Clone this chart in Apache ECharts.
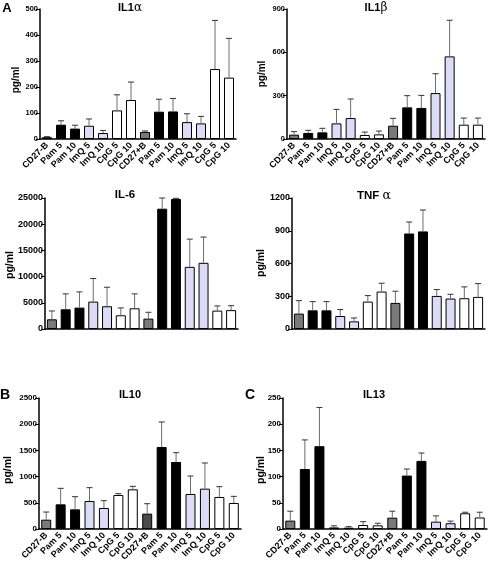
<!DOCTYPE html>
<html><head><meta charset="utf-8">
<script src="https://cdn.jsdelivr.net/npm/echarts@6/dist/echarts.min.js"></script>
<style>html,body{margin:0;padding:0;background:#fff}#c{width:488px;height:566px}</style>
</head><body><div id="c"></div>
<script>
const categories = ['CD27-B','Pam 5','Pam 10','ImQ 5','ImQ 10','CpG 5','CpG 10','CD27+B','Pam 5','Pam 10','ImQ 5','ImQ 10','CpG 5','CpG 10'];

const il1aMean = [7, 55, 40, 51, 23, 110, 150, 27, 105, 106, 65, 60, 269, 236];
const il1aUpper = [9, 70, 53, 77, 33, 170, 219, 31, 153, 156, 97, 87, 456, 387];

const il1bMean = [30, 42, 46, 108, 145, 28, 32, 92, 219, 215, 318, 572, 99, 99];
const il1bUpper = [51, 60, 74, 205, 277, 48, 55, 143, 300, 302, 452, 822, 145, 145];

const il6Mean = [1850, 3760, 4080, 5230, 4340, 2620, 3950, 1980, 22960, 24810, 11860, 12630, 3510, 3600];
const il6Upper = [3440, 6700, 7080, 9630, 7970, 4020, 6700, 3190, 25000, 24940, 17150, 17540, 4400, 4450];

const tnfMean = [141, 171, 171, 119, 70, 251, 343, 239, 875, 894, 303, 279, 282, 294];
const tnfUpper = [260, 251, 251, 178, 101, 306, 419, 346, 980, 1090, 361, 318, 386, 416];

const il10Mean = [178, 471, 375, 534, 401, 649, 757, 293, 1565, 1279, 668, 770, 611, 496];
const il10Upper = [324, 776, 617, 789, 541, 674, 814, 483, 2042, 1457, 1011, 1260, 808, 623];

const il13Mean = [16, 114.5, 158, 3, 2.5, 7.6, 7, 21.6, 102, 130, 14, 11, 30, 22];
const il13Upper = [34, 170, 232, 6, 4.5, 14, 11, 34, 114.5, 145, 25, 15, 32, 32];

const panelTitles = ['IL1α', 'IL1β', 'IL-6', 'TNF α', 'IL10', 'IL13'];
const yMax = [500, 900, 25000, 1200, 2500, 250];
const yInterval = [100, 300, 5000, 300, 500, 50];
const panelLetters = ['A', 'B', 'C'];
const yName = 'pg/ml';

// styling / layout
const GRAY = '#7a7a7a', BLACK = '#000', LAV = '#dcdcf7', WHITE = '#fff', DARKGRAY = '#4a4a4a';
const baseColors = [GRAY, BLACK, BLACK, LAV, LAV, WHITE, WHITE, GRAY, BLACK, BLACK, LAV, LAV, WHITE, WHITE];
const FONT = 'Liberation Sans, Arial, sans-serif';

const panels = [
  {mean: il1aMean, upper: il1aUpper, grid: {left: 40, top: 9, width: 196, height: 130}, tickFont: 7.5, showLabels: true, colors: baseColors},
  {mean: il1bMean, upper: il1bUpper, grid: {left: 287, top: 9, width: 198, height: 130}, tickFont: 7.5, showLabels: true, colors: baseColors},
  {mean: il6Mean, upper: il6Upper, grid: {left: 45, top: 198, width: 193, height: 131}, tickFont: 9, showLabels: false, colors: baseColors},
  {mean: tnfMean, upper: tnfUpper, grid: {left: 292, top: 198, width: 193, height: 131}, tickFont: 9, showLabels: false, colors: baseColors},
  {mean: il10Mean, upper: il10Upper, grid: {left: 39, top: 398, width: 202, height: 131}, tickFont: 8, showLabels: true,
    colors: baseColors.map((c, i) => i === 7 ? DARKGRAY : c)},
  {mean: il13Mean, upper: il13Upper, grid: {left: 283, top: 398, width: 204, height: 131}, tickFont: 8, showLabels: true, colors: baseColors}
];

const titlePos = [[130, 8, 11], [376, 8, 11], [125, 195, 11.5], [374, 196, 11.5], [130, 395, 11], [374, 395, 11]];
const yNamePos = [[16, 80, 10], [262, 74, 10], [10, 265, 10.5], [261, 263, 10.5], [8, 470, 10.5], [261, 470, 10.5]];
const letterPos = [[7, 8, 13], [5, 395, 14], [250, 395, 14]];

const grids = [], xAxes = [], yAxes = [], series = [], graphics = [];
panels.forEach((p, k) => {
  grids.push(Object.assign({containLabel: false}, p.grid));
  xAxes.push({
    type: 'category', gridIndex: k, data: categories,
    axisLine: {lineStyle: {color: '#000', width: 1.5}},
    axisTick: {alignWithLabel: true, interval: 0, length: 3, lineStyle: {color: '#000', width: 1}},
    axisLabel: {show: p.showLabels, interval: 0, rotate: 45, margin: 5, color: '#000', fontFamily: FONT, fontWeight: 'bold', fontSize: 9}
  });
  yAxes.push({
    type: 'value', gridIndex: k, min: 0, max: yMax[k], interval: yInterval[k],
    axisLine: {show: true, lineStyle: {color: '#000', width: 1.5}},
    axisTick: {show: true, length: 4, lineStyle: {color: '#000', width: 1}},
    splitLine: {show: false},
    axisLabel: {margin: 2, color: '#000', fontFamily: FONT, fontWeight: 'bold', fontSize: p.tickFont,
      formatter: v => String(v)}
  });
  series.push({
    type: 'bar', xAxisIndex: k, yAxisIndex: k, barWidth: 10,
    data: p.mean.map((v, i) => ({value: v, itemStyle: {color: p.colors[i], borderColor: '#000', borderWidth: 1}})),
    animation: false, z: 2
  });
  series.push({
    type: 'custom', xAxisIndex: k, yAxisIndex: k, z: 3, animation: false,
    data: p.mean.map((v, i) => [i, v, p.upper[i]]),
    renderItem: (params, api) => {
      const a = api.coord([api.value(0), api.value(1)]);
      const b = api.coord([api.value(0), api.value(2)]);
      const hw = 3;
      return {type: 'group', children: [
        {type: 'line', shape: {x1: a[0], y1: a[1], x2: b[0], y2: b[1]}, style: {stroke: '#6e6e6e', lineWidth: 1}},
        {type: 'line', shape: {x1: b[0] - hw, y1: b[1], x2: b[0] + hw, y2: b[1]}, style: {stroke: '#333', lineWidth: 1}}
      ]};
    }
  });
  const sz = titlePos[k][2];
  const m = panelTitles[k].match(/^(.*?)([α-ω])$/);
  const titleText = m ? '{b|' + m[1] + '}{g|' + m[2] + '}' : '{b|' + panelTitles[k] + '}';
  graphics.push({type: 'text', x: titlePos[k][0], y: titlePos[k][1],
    style: {text: titleText, fill: '#000', textAlign: 'center', textVerticalAlign: 'middle',
      rich: {b: {fontFamily: FONT, fontWeight: 'bold', fontSize: sz, fill: '#000'},
             g: {fontFamily: 'DejaVu Serif, serif', fontWeight: 'normal', fontSize: sz + 1, fill: '#000'}}}});
  graphics.push({type: 'text', x: yNamePos[k][0], y: yNamePos[k][1], rotation: Math.PI / 2,
    style: {text: yName, fill: '#000', font: 'bold ' + yNamePos[k][2] + 'px ' + FONT, textAlign: 'center', textVerticalAlign: 'middle'}});
});
panelLetters.forEach((t, i) => {
  graphics.push({type: 'text', x: letterPos[i][0], y: letterPos[i][1],
    style: {text: t, fill: '#000', font: 'bold ' + letterPos[i][2] + 'px ' + FONT, textAlign: 'center', textVerticalAlign: 'middle'}});
});

const chart = echarts.init(document.getElementById('c'), null, {renderer: 'canvas'});
chart.setOption({animation: false, backgroundColor: '#fff', grid: grids, xAxis: xAxes, yAxis: yAxes, series: series, graphic: graphics});
</script></body></html>
